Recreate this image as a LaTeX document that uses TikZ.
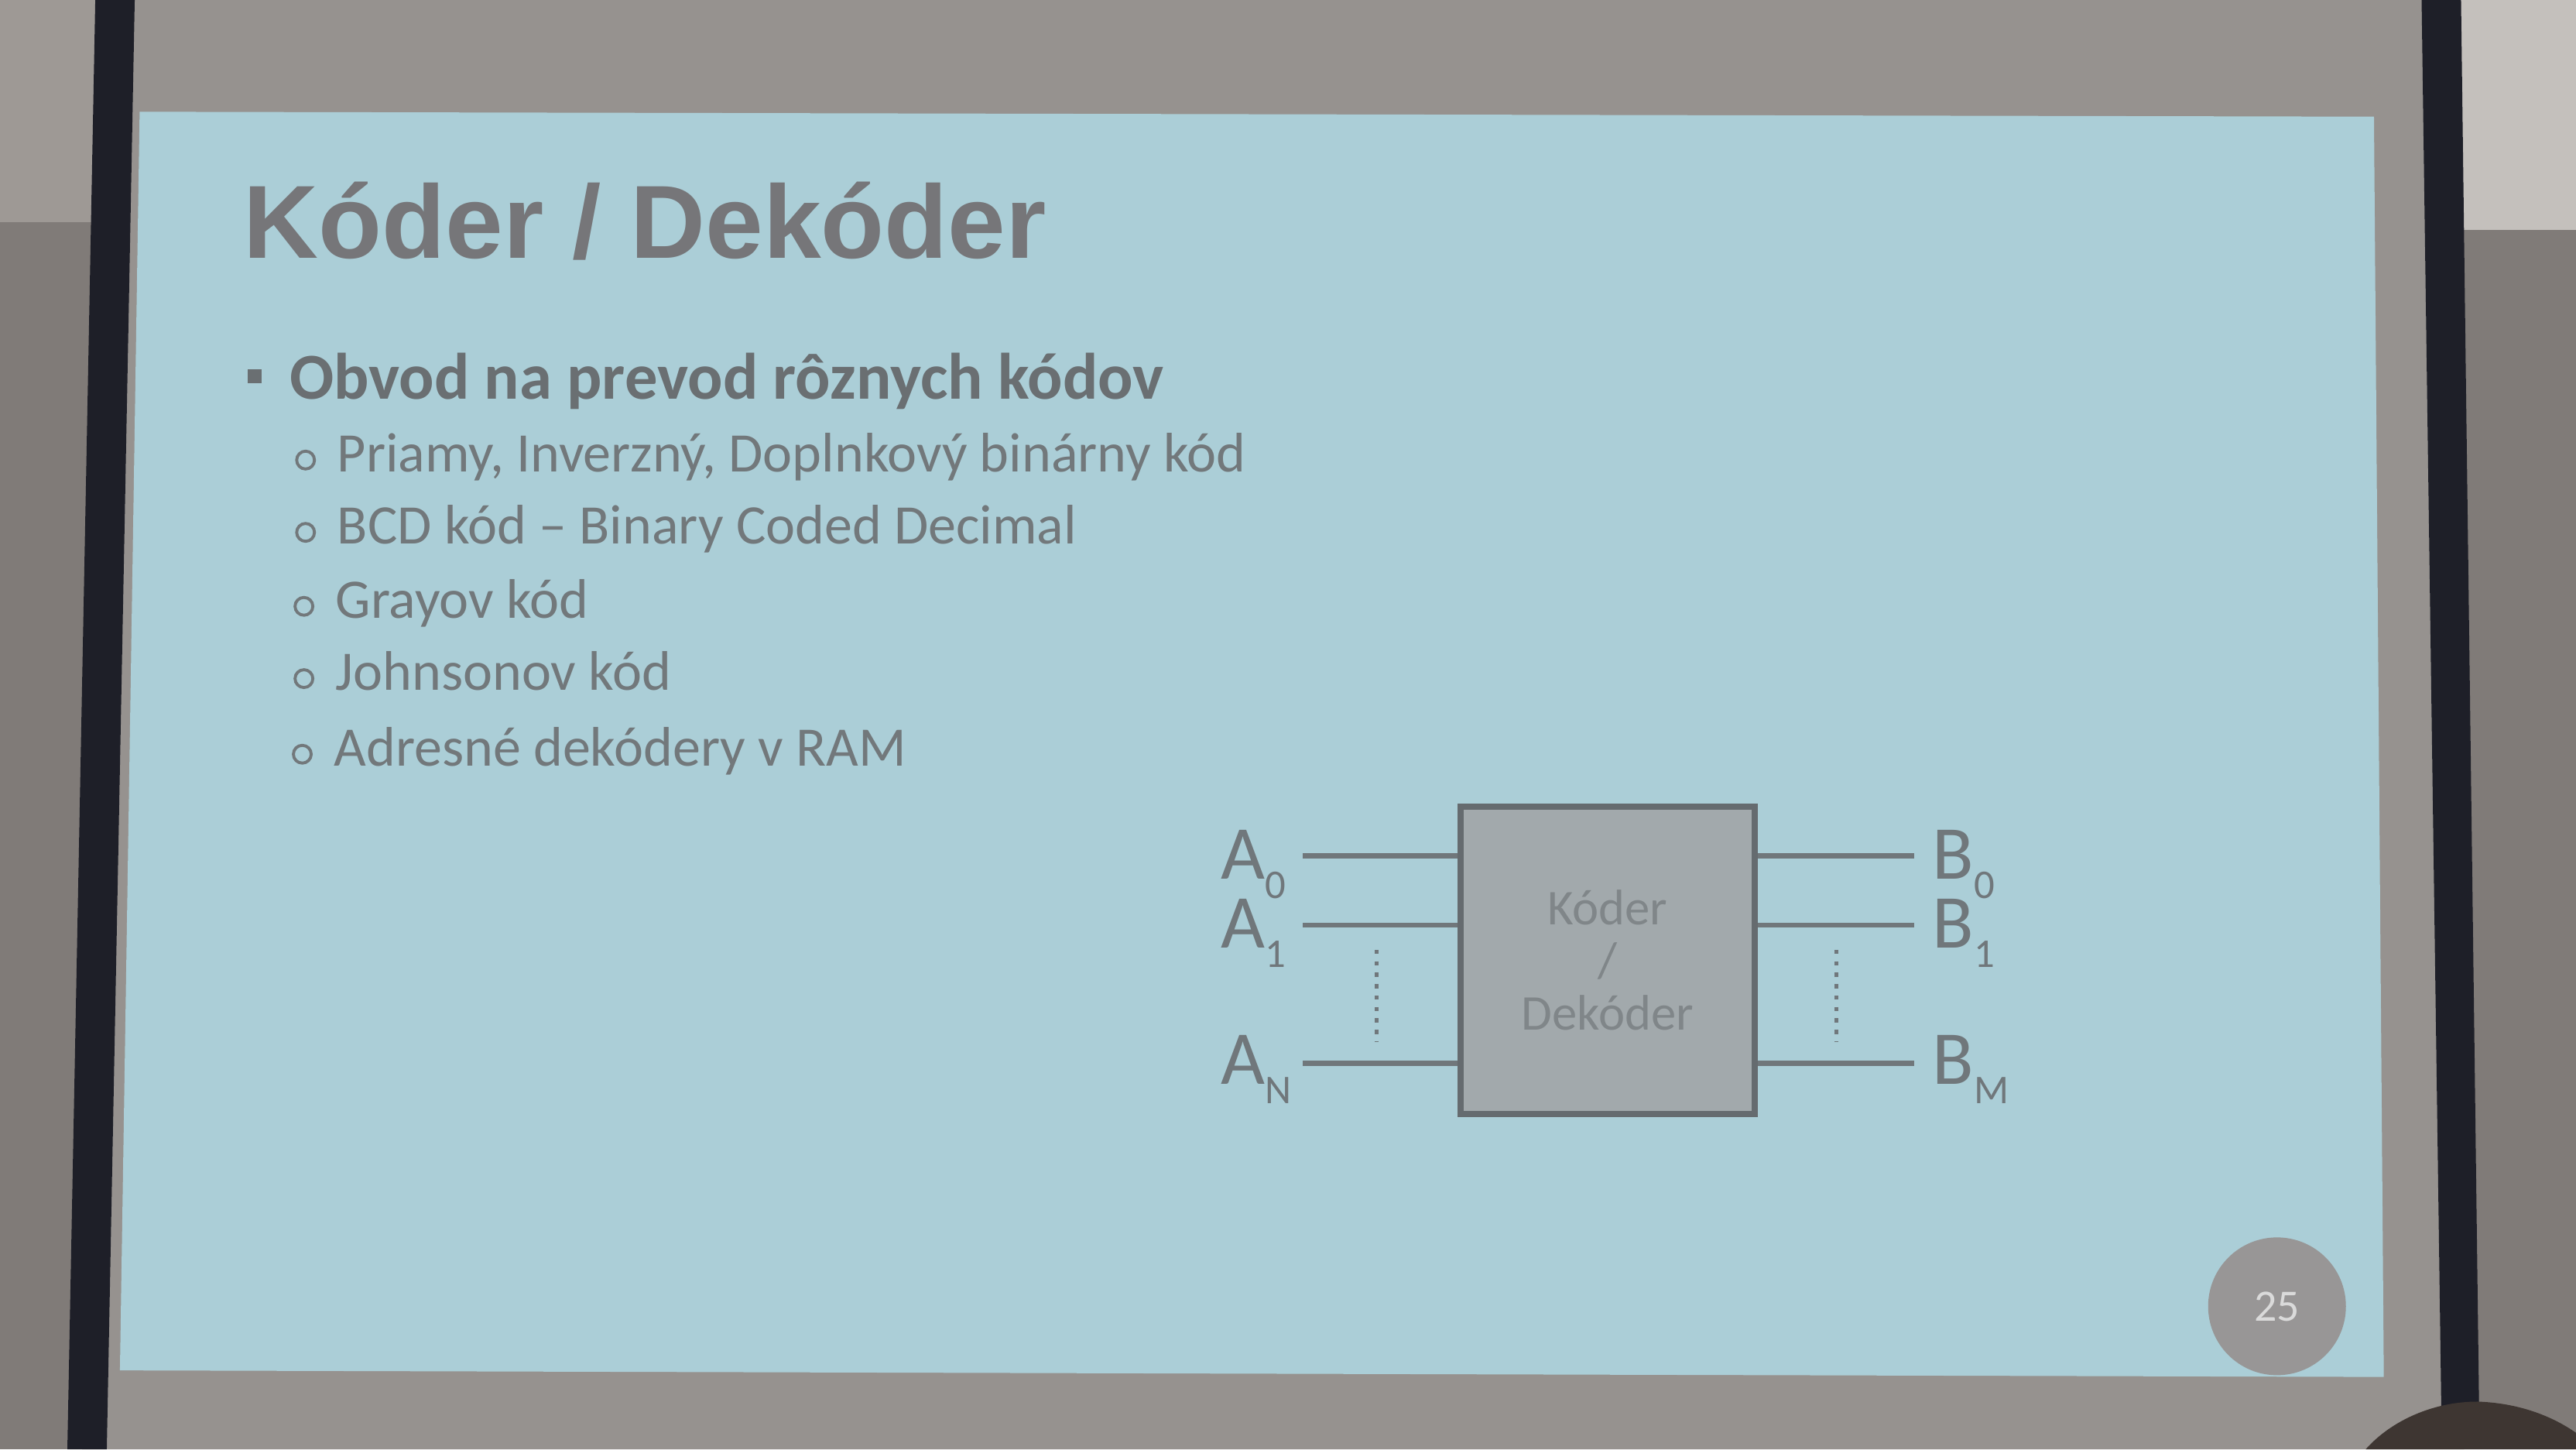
\documentclass[tikz,border=0pt]{standalone}
\usepackage{fontspec}
\setmainfont{Carlito}
\newfontfamily\titlefont{Liberation Sans}
\definecolor{wall}{RGB}{128,123,120}
\definecolor{walllight}{RGB}{158,153,149}
\definecolor{wallrlight}{RGB}{196,192,188}
\definecolor{screengray}{RGB}{150,146,143}
\definecolor{slideblue}{RGB}{171,206,215}
\definecolor{barblack}{RGB}{30,31,40}
\definecolor{handdark}{RGB}{62,54,50}
\definecolor{titlegray}{RGB}{118,118,121}
\definecolor{textgray}{RGB}{106,111,114}
\definecolor{subgray}{RGB}{114,120,123}
\definecolor{wiregray}{RGB}{112,119,123}
\definecolor{boxfill}{RGB}{162,169,172}
\definecolor{boxtext}{RGB}{128,134,137}
\definecolor{pagegray}{RGB}{152,150,150}
\definecolor{pagetext}{RGB}{218,218,218}
\tikzset{
  titletext/.style={anchor=base west, text=titlegray, font=\titlefont\bfseries\fontsize{38.2}{44}\selectfont, inner sep=0pt},
  maintext/.style={anchor=base west, text=textgray, font=\bfseries\fontsize{24.1}{28}\selectfont, inner sep=0pt},
  subtext/.style={anchor=base west, text=subgray, font=\fontsize{20.5}{24}\selectfont, inner sep=0pt},
  subbullet/.style={circle, draw=subgray, line width=1.1pt, minimum size=0.23cm, inner sep=0pt},
  sqbullet/.style={rectangle, fill=textgray, minimum size=0.18cm, inner sep=0pt},
  wire/.style={draw=wiregray, line width=1.9pt},
  dotline/.style={draw=wiregray, line width=1.4pt, dash pattern=on 1.6pt off 2.6pt},
  codbox/.style={draw=wiregray!90!black, line width=2.2pt, fill=boxfill, minimum width=3.80cm, minimum height=3.97cm, inner sep=0pt, align=center, text=boxtext, font=\fontsize{18.4}{19.3}\selectfont},
  pinlabel/.style={anchor=base west, text=wiregray, font=\fontsize{28}{30}\selectfont, inner sep=0pt},
  pagebadge/.style={circle, fill=pagegray, minimum size=1.78cm, inner sep=0pt, text=pagetext, font=\fontsize{16.5}{18}\selectfont}
}
\newcommand\pinsub[1]{\raisebox{-7pt}{\fontsize{15}{15}\selectfont #1}}
\begin{document}
\begin{tikzpicture}[x=0.021224cm,y=-0.021224cm]
\useasboundingbox (0,0) rectangle (1568,882);
% room and screen
\fill[wall] (0,0) rectangle (1568,882);
\fill[walllight] (0,0) rectangle (60,135);
\fill[wallrlight] (1490,0) rectangle (1568,140);
\fill[screengray] (70,0) -- (1480,0) -- (1500,882) -- (50,882) -- cycle;
\fill[slideblue] (85,68) -- (1445,71) -- (1451,838) -- (73,834) -- cycle;
\fill[barblack] (58,0) -- (82,0) -- (65,882) -- (41,882) -- cycle;
\fill[barblack] (1474,0) -- (1498,0) -- (1509,858) -- (1486,858) -- cycle;
\fill[handdark] (1440,882) .. controls (1456,864) and (1482,853) .. (1508,853) .. controls (1538,854) and (1558,865) .. (1568,872) -- (1568,882) -- cycle;
% title and list
\node[titletext] (title) at (148,157) {Kóder / Dekóder};
\node[sqbullet] (b0) at (155,229) {};
\node[maintext] (t0) at (176,243) {Obvod na prevod rôznych kódov};
\node[subbullet] (b1) at (186,280) {};
\node[subtext] (t1) at (205,287) {Priamy, Inverzný, Doplnkový binárny kód};
\node[subbullet] (b2) at (186,324) {};
\node[subtext] (t2) at (205,331) {BCD kód – Binary Coded Decimal};
\node[subbullet] (b3) at (185,369) {};
\node[subtext] (t3) at (204,376) {Grayov kód};
\node[subbullet] (b4) at (185,413) {};
\node[subtext] (t4) at (204,420) {Johnsonov kód};
\node[subbullet] (b5) at (184,459) {};
\node[subtext] (t5) at (203,466) {Adresné dekódery v RAM};
% coder block
\node[codbox] (box) at (978.5,584.5) {Kóder\\/\\Dekóder};
\coordinate (a0) at (793,521);
\coordinate (a1) at (793,563);
\coordinate (an) at (793,647);
\coordinate (bo0) at (1165,521);
\coordinate (bo1) at (1165,563);
\coordinate (bom) at (1165,647);
\draw[wire] (a0) -- (box.west |- a0);
\draw[wire] (a1) -- (box.west |- a1);
\draw[wire] (an) -- (box.west |- an);
\draw[wire] (box.east |- bo0) -- (bo0);
\draw[wire] (box.east |- bo1) -- (bo1);
\draw[wire] (box.east |- bom) -- (bom);
\coordinate (dl1) at (838,578);
\coordinate (dl2) at (838,634);
\coordinate (dr1) at (1118,578);
\coordinate (dr2) at (1118,634);
\draw[dotline] (dl1) -- (dl2);
\draw[dotline] (dr1) -- (dr2);
\node[pinlabel] (la0) at (743,535) {A\pinsub{0}};
\node[pinlabel] (la1) at (743,577) {A\pinsub{1}};
\node[pinlabel] (lan) at (743,660) {A\pinsub{N}};
\node[pinlabel] (lb0) at (1176,535) {B\pinsub{0}};
\node[pinlabel] (lb1) at (1176,577) {B\pinsub{1}};
\node[pinlabel] (lbm) at (1176,660) {B\pinsub{M}};
% page number
\node[pagebadge] (page) at (1386,795) {25};
\end{tikzpicture}
\end{document}
